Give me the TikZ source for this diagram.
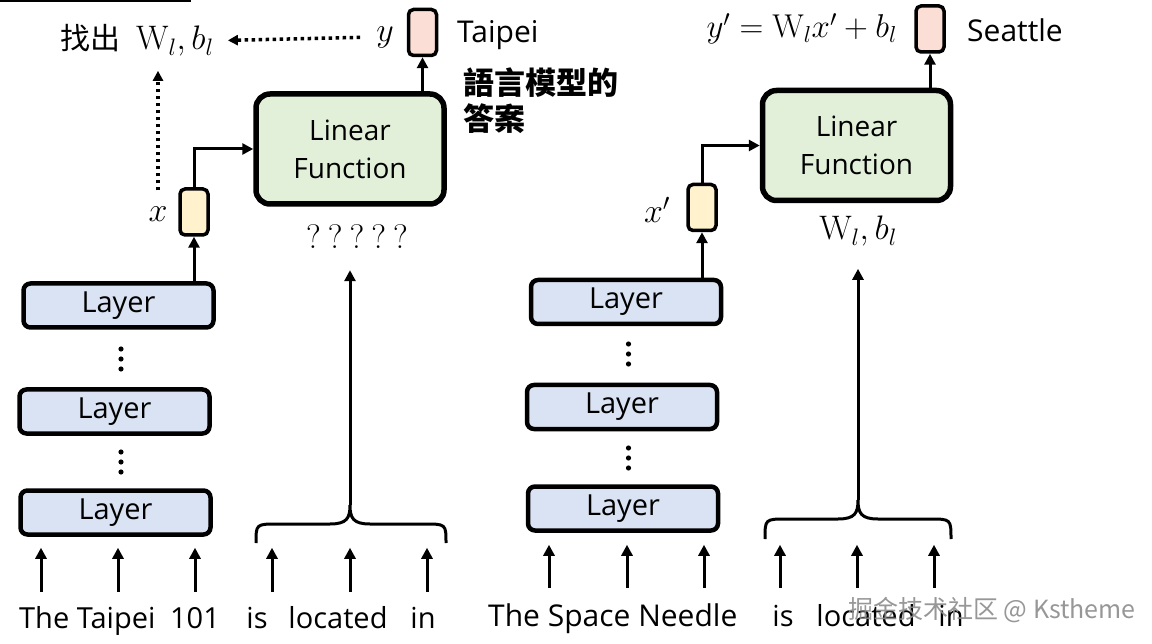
\RequirePackage{fix-cm}
\documentclass[tikz,border=0pt]{standalone}
\usepackage{fontspec}
\usetikzlibrary{arrows.meta}
\newfontfamily\sansf{Open Sans}
\newfontfamily\cjk{Noto Sans CJK TC}
\newfontfamily\cjksc{Noto Sans CJK SC}
\definecolor{layerblue}{HTML}{DAE3F3}
\definecolor{funcgreen}{HTML}{E2F0D9}
\definecolor{vecyellow}{HTML}{FFF2CC}
\definecolor{vecpink}{HTML}{FBDED5}
\begin{document}
\begin{tikzpicture}[x=1pt,y=-1pt,
  arr/.style={line width=3pt, -{Triangle[length=11pt,width=11pt]}},
  dotarr/.style={line width=3.5pt, dash pattern=on 3.5pt off 3.5pt, -{Triangle[length=10pt,width=10pt]}},
  bracepath/.style={line width=3pt},
  layerbox/.style={draw, line width=4.5pt, rounded corners=7pt, fill=layerblue, minimum width=190pt, minimum height=44pt, inner sep=0pt, font=\sansf\fontsize{29}{32}\selectfont},
  funcbox/.style={draw, line width=5.5pt, rounded corners=14pt, fill=funcgreen, minimum width=188pt, minimum height=110pt, inner sep=0pt, align=center, font=\sansf\fontsize{28}{38}\selectfont},
  vecbox/.style={draw, line width=3.5pt, rounded corners=5pt, minimum width=28pt, minimum height=46pt, inner sep=0pt},
  mlab/.style={inner sep=0pt, font=\fontsize{34}{38}\selectfont},
  word/.style={inner sep=0pt, font=\sansf\fontsize{29}{32}\selectfont},
  outlab/.style={inner sep=0pt, anchor=base west, font=\sansf\fontsize{30}{34}\selectfont},
  cjklab/.style={inner sep=0pt, anchor=base west, font=\cjk\bfseries\fontsize{31}{37}\selectfont},
  vdot/.style={fill=black}
]
\useasboundingbox (0,0) rectangle (1152,644);
\fill[white] (0,0) rectangle (1152,644);
\draw[line width=2pt] (0,1) -- (191,1);

% ---------- left half ----------
\node[layerbox] (L1) at (118.5,305.5) {Layer};
\node[layerbox] (L2) at (114.5,411.5) {Layer};
\node[layerbox] (L3) at (115.5,512.5) {Layer};
\foreach \yy in {349,359,369,452,462,472} \fill[vdot] (121,\yy) circle (2.6pt);
\node[vecbox, fill=vecyellow] (X) at (194,212) {};
\node[funcbox] (F) at (350,149) {Linear\\Function};
\node[vecbox, fill=vecpink] (Y) at (422.5,32.5) {};
\node[mlab] (xl) at (158,214) {$x$};
\node[mlab] (yl) at (385,37) {$y$};
\node[mlab, anchor=base west] (findW) at (60,50) {{\cjk\fontsize{30}{32}\selectfont 找出}\hspace{16pt}$\mathrm{W}_l, b_l$};
\node[mlab, anchor=base] (Q) at (357,249) {?\hspace{7pt}?\hspace{7pt}?\hspace{7pt}?\hspace{7pt}?};
\node[outlab] (tp) at (457,43) {Taipei};
\node[cjklab] (ans1) at (463,95) {語言模型的};
\node[cjklab] (ans2) at (463,131) {答案};

\draw[arr] (X.south |- L1.north) -- (X.south);
\draw[arr] (X.north) |- (F.west);
\draw[arr] (Y.south |- F.north) -- (Y.south);
\draw[dotarr, shorten <=16pt, shorten >=14pt] (yl.west) -- (findW.east);
\draw[dotarr, shorten <=16pt, shorten >=14pt] (xl.north) -- (xl.north |- findW.south);

\draw[bracepath] (256,543) .. controls (256,524) .. (278,524) -- (330,524)
  .. controls (347,524) and (350,518) .. (350,505)
  .. controls (350,518) and (353,524) .. (370,524) -- (424,524)
  .. controls (446,524) .. (446,543);
\coordinate (BL) at (350,505);
\draw[arr, shorten >=21pt] (BL) -- (BL |- Q.south);

\foreach \n/\xx in {a1/41,a2/118,a3/195,a4/272,a5/350,a6/427} {
  \coordinate (\n) at (\xx,592);
  \draw[arr, shorten >=11pt] (\n) -- (\n |- L3.south);
}
\node[word, anchor=base west] (w1) at (19,628) {The Taipei};
\node[word, anchor=base] (w2) at (195,628) {101};
\node[word, anchor=base] (w3) at (257,628) {is};
\node[word, anchor=base] (w4) at (338,628) {located};
\node[word, anchor=base] (w5) at (423,628) {in};

% ---------- right half ----------
\node[layerbox] (R1) at (626,302) {Layer};
\node[layerbox] (R2) at (622,407) {Layer};
\node[layerbox] (R3) at (623,508.5) {Layer};
\foreach \yy in {344,354,364,448,458,468} \fill[vdot] (628.5,\yy) circle (2.6pt);
\node[vecbox, fill=vecyellow] (XP) at (702,207.5) {};
\node[funcbox] (G) at (856.5,145.5) {Linear\\Function};
\node[vecbox, fill=vecpink] (YP) at (930,29) {};
\node[mlab] (xpl) at (657,210) {$x'$};
\node[mlab, anchor=base east, font=\fontsize{33}{36}\selectfont] (yeq) at (897,38) {$y' = \mathrm{W}_l x' + b_l$};
\node[mlab, anchor=base] (Wb) at (858,240) {$\mathrm{W}_l, b_l$};
\node[outlab] (st) at (967,42) {Seattle};

\draw[arr] (XP.south |- R1.north) -- (XP.south);
\draw[arr] (XP.north) |- (G.west);
\draw[arr] (YP.south |- G.north) -- (YP.south);

\draw[bracepath] (765,539) .. controls (765,519) .. (787,519) -- (838,519)
  .. controls (855,519) and (858,513) .. (858,500)
  .. controls (858,513) and (861,519) .. (878,519) -- (929,519)
  .. controls (951,519) .. (951,539);
\coordinate (BR) at (858,500);
\draw[arr, shorten >=22pt] (BR) -- (BR |- Wb.south);

\foreach \n/\xx in {b1/549,b2/627,b3/704,b4/780,b5/857,b6/934} {
  \coordinate (\n) at (\xx,588);
  \draw[arr, shorten >=12pt] (\n) -- (\n |- R3.south);
}
\node[word, anchor=base west, font=\sansf\fontsize{30}{34}\selectfont] (v1) at (488,626) {The Space Needle};
\node[word, anchor=base] (v2) at (783,626) {is};
\node[word, anchor=base] (v3) at (866,626) {located};
\node[word, anchor=base] (v4) at (951,626) {in};

\node[inner sep=0pt, text=black!45, opacity=0.9, font=\cjksc\fontsize{25}{30}\selectfont] (wm) at (992,610) {掘金技术社区 @ Kstheme};
\end{tikzpicture}
\end{document}
